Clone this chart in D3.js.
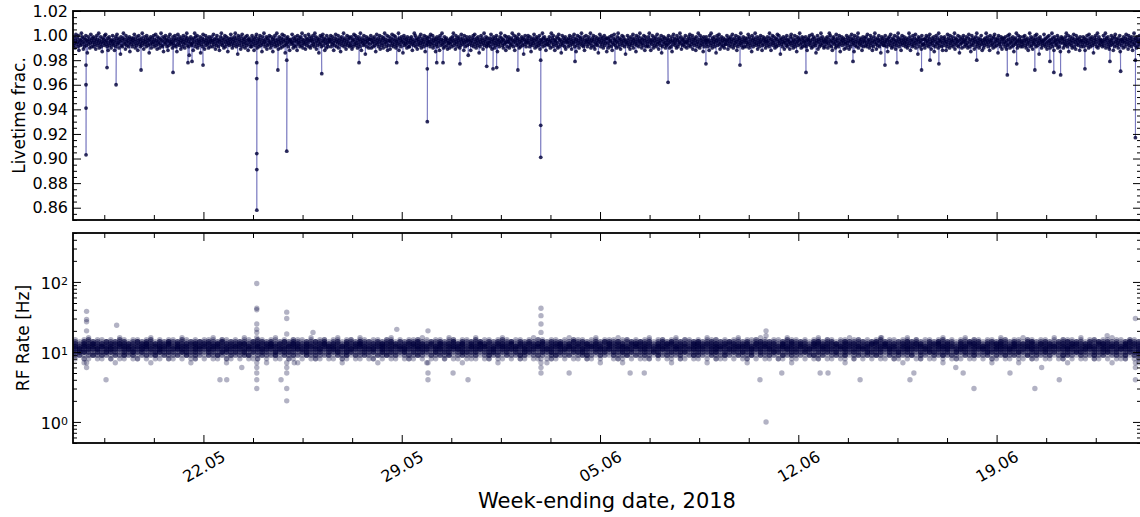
<!DOCTYPE html>
<html><head><meta charset="utf-8">
<script src="https://cdn.jsdelivr.net/npm/d3@7/dist/d3.min.js"></script>
<style>body{margin:0;background:#fff}svg{display:block}</style>
</head><body>
<svg id="chart" width="1140" height="517"></svg>
<script>
// ---------------- data ----------------
const xStart = "17.05 09:30", xEnd = "24.06 02:20";
const xTickLabels = ["22.05", "29.05", "05.06", "12.06", "19.06"];
const livetimeTicks = [0.86, 0.88, 0.90, 0.92, 0.94, 0.96, 0.98, 1.00, 1.02];
const rfTicks = [1, 10, 100];
const rfTickLabels = ["0", "1", "2"];
const yLabelTop = "Livetime frac.", yLabelBottom = "RF Rate [Hz]", xLabel = "Week-ending date, 2018";

// Dead time per run, in per-mille (livetime = 1 - value/1000), evenly spaced runs
const deadPermille = [
3,8,1,6,10,4,-1,7,2,5,9,0,12,6,3,8,4,-2,7,1,5,11,2,9,6,3,0,8,4,14,5,1,7,3,10,6,-1,4,9,2,
6,1,9,4,7,2,11,5,0,8,3,6,-2,10,4,7,1,9,5,13,2,6,3,8,0,5,-1,7,4,9,2,12,6,1,8,3,5,10,4,7,
0,5,8,3,12,6,1,9,4,-1,7,2,6,10,3,5,15,1,8,4,9,2,-2,6,3,7,11,0,5,8,2,4,9,6,1,13,3,7,5,2,
9,4,2,7,-1,5,10,3,8,1,6,12,4,0,7,3,9,5,2,8,-2,6,4,11,1,7,3,5,9,0,6,2,8,4,14,3,7,1,10,5,
2,7,5,0,9,3,6,-1,8,4,11,1,5,7,2,10,6,3,-2,8,4,9,1,13,5,2,7,0,6,3,9,4,12,1,8,5,-1,6,3,7,
5,10,1,6,3,8,0,4,9,2,13,7,-1,5,3,8,1,6,11,4,2,9,5,0,7,3,10,6,1,4,-2,8,2,5,9,16,3,6,1,7,
8,3,6,12,2,5,-2,9,1,7,4,0,10,6,3,8,5,1,14,4,7,2,9,-1,5,3,11,6,0,8,4,2,7,5,10,1,6,3,9,4,
1,6,4,9,-1,7,3,5,11,2,8,0,6,4,9,3,12,5,1,7,-2,4,8,2,6,10,3,0,9,5,1,7,4,13,2,6,8,3,5,-1,
7,2,10,5,3,8,1,6,-2,4,9,2,7,15,0,5,3,8,1,11,6,4,-1,9,2,7,5,3,10,1,6,8,0,4,12,3,7,2,5,9,
4,9,0,7,2,5,12,3,8,1,6,-1,10,4,7,2,9,5,0,3,8,6,13,1,4,7,-2,5,9,3,6,1,11,8,2,4,7,0,5,10,
6,1,8,3,13,5,2,7,0,9,4,6,-2,8,3,11,5,1,7,4,10,2,6,-1,9,3,5,0,8,14,4,7,2,6,1,9,3,5,12,4,
3,7,5,-1,6,10,2,8,4,1,9,5,3,12,0,7,4,6,2,9,1,5,8,-2,3,10,6,4,7,0,11,5,2,8,3,6,-1,9,4,1,
10,4,2,8,5,0,7,3,9,-2,6,1,11,4,8,2,5,14,3,7,0,6,9,1,4,-1,8,5,2,12,3,6,10,0,7,4,9,2,5,3,
5,0,9,3,7,1,6,12,4,8,2,-1,5,9,3,6,0,10,4,7,2,13,5,1,8,3,6,-2,9,4,2,7,11,5,0,8,3,6,1,9,
2,8,6,1,11,4,9,3,-1,7,5,0,8,2,6,10,4,1,7,3,9,-2,5,12,2,6,4,8,0,7,3,15,5,1,9,4,6,2,10,3,
7,3,0,10,4,6,2,9,5,1,8,3,13,6,-1,4,7,2,9,5,0,11,3,6,8,1,4,10,2,7,-2,5,3,9,6,0,12,4,8,1,
4,11,5,2,8,-1,6,3,9,0,7,4,1,10,5,8,3,6,-2,12,2,7,4,9,1,5,3,14,6,0,8,2,5,7,3,10,1,6,4,9,
9,2,6,4,1,7,12,3,5,8,-2,6,0,9,4,2,11,7,3,5,1,8,6,-1,10,4,2,7,5,9,0,3,13,6,1,8,4,2,7,5,
1,5,9,-1,7,3,6,0,10,4,8,2,5,13,3,7,1,9,4,6,2,12,0,5,8,3,-2,7,4,10,6,1,9,3,5,2,8,11,4,6,
6,10,3,7,2,5,9,1,4,-2,8,6,3,11,0,5,7,2,9,4,1,6,10,3,8,-1,5,2,7,4,12,0,6,9,3,5,1,8,4,16,
3,7,1,5,12,4,8,2,6,0,9,3,-1,7,5,10,2,4,8,1,6,14,3,9,5,0,7,2,4,11,6,-2,8,3,5,1,9,7,2,6,
8,4,6,2,9,-1,5,11,3,7,1,4,10,6,2,8,0,5,13,3,7,4,9,1,6,-2,5,2,8,3,10,4,7,0,6,12,1,5,9,3,
5,1,10,6,3,8,2,7,-2,4,9,5,0,12,3,6,1,8,4,2,7,-1,10,5,3,9,6,1,4,8,2,15,3,7,0,5,9,4,6,2,
0,6,4,9,1,7,13,3,5,8,2,6,-1,4,10,7,3,1,9,5,2,8,6,0,11,4,7,3,5,-2,9,2,6,1,8,4,12,3,7,5,
7,3,8,1,5,10,4,-2,6,2,9,0,7,4,12,3,5,8,1,6,10,2,-1,9,4,3,7,14,5,0,8,6,2,4,9,1,11,5,3,6,
4,9,2,6,0,8,3,5,11,1,7,4,6,-1,9,2,5,13,3,8,0,6,4,10,1,7,2,5,-2,8,3,6,9,1,12,4,7,0,5,3,
9,5,1,7,3,6,-2,10,4,8,2,5,0,9,3,11,6,1,7,4,8,2,14,5,3,-1,6,9,1,4,7,2,10,5,0,8,3,6,2,13,
2,6,10,3,8,1,5,4,9,0,12,6,2,7,-1,4,8,3,5,10,1,6,-2,9,4,2,7,11,3,5,0,8,6,1,4,9,3,15,5,7,
6,0,4,9,2,7,11,5,1,8,3,6,-1,10,4,2,7,5,13,0,8,3,6,1,9,4,-2,5,7,2,10,6,3,8,0,4,12,1,6,9,
3,8,5,1,9,-2,6,3,12,4,7,0,5,10,2,8,4,1,6,9,3,-1,7,5,11,2,6,4,8,0,14,3,9,5,1,7,2,6,10,4,
8,2,7,4,0,6,10,3,5,9,1,13,4,7,-1,5,2,8,6,3,10,0,4,9,2,7,5,-2,6,1,11,3,8,4,7,2,5,9,0,6,
5,10,3,6,1,8,4,-1,9,2,7,5,0,11,3,6,8,2,4,12,1,7,5,9,-2,3,6,10,0,8,4,2,7,5,13,1,9,3,6,4,
1,7,4,9,3,5,12,0,6,8,-2,4,10,2,7,5,1,9,3,6,14,4,0,8,2,5,-1,7,11,3,6,1,9,4,8,2,5,10,3,7,
7,4,0,5,11,2,8,3,6,1,9,5,3,-1,7,10,4,2,8,6,0,5,12,3,9,1,7,4,2,6,-2,8,5,3,10,1,6,9,4,2,
4,9,6,2,7,-1,5,10,1,8,3,6,13,0,4,9,2,7,5,-2,3,8,6,1,11,4,7,2,9,5,0,6,3,12,8,1,4,7,2,5,
10,3,5,8,1,6,4,9,-2,2,7,12,3,5,0,8,6,1,4,10,7,2,9,3,-1,5,8,0,6,4,15,2,7,3,9,5,1,6,11,4,
2,6,8,0,9,4,3,7,5,11,1,6,-1,8,2,5,10,4,7,0,9,3,6,13,1,5,8,2,4,-2,7,3,10,6,1,9,4,2,5,8,
6,1,9,4,12,3,7,2,5,0,8,4,6,10,-1,3,9,1,7,5,2,8,14,4,6,0,11,3,5,9,2,7,-2,4,8,1,6,3,10,5,
9,4,2,7,5,1,10,6,3,-2,8,0,5,9,4,12,2,6,1,7,3,10,5,-1,8,4,2,9,6,0,7,13,3,5,1,8,4,6,2,11,
3,7,5,10,0,6,2,8,4,11,1,5,9,3,-1,7,4,2,6,13,0,8,5,3,9,1,6,-2,10,4,7,2,5,8,3,12,6,1,9,4,
5,2,8,1,6,9,-1,4,7,3,10,5,0,8,2,6,12,4,9,1,5,-2,7,3,11,6,2,8,4,0,9,5,3,14,7,1,6,4,2,8,
8,5,0,6,3,9,4,13,2,7,1,5,8,-1,4,10,6,2,9,3,7,0,5,11,4,8,1,6,-2,3,9,5,2,7,12,4,0,6,8,3,
1,6,4,9,7,2,5,10,3,8,-2,6,1,12,4,7,3,9,0,5,8,2,6,-1,10,4,7,3,15,1,5,9,2,6,4,11,0,8,3,7,
7,3,10,2,5,0,8,4,6,1,9,3,-1,7,5,11,2,6,4,8,1,13,3,9,5,0,7,2,6,10,-2,4,8,3,5,1,9,6,12,2,
4,8,1,6,3,12,5,9,-1,7,2,4,10,0,6,8,3,5,1,9,4,7,-2,11,2,6,3,8,5,0,9,4,14,1,7,3,6,10,2,5,
0,5,9,3,7,4,1,8,6,10,2,-1,5,9,3,13,7,0,4,8,2,6,11,3,5,1,9,-2,7,4,6,2,10,8,3,5,0,7,12,4,
6,10,3,8,2,5,-2,7,4,1,9,6,3,12,0,5,8,4,2,7,10,1,6,-1,9,3,5,8,2,4,14,0,7,6,3,9,1,5,11,2,
3,7,2,5,9,1,6,11,4,8,0,3,7,-1,10,5,2,6,9,4,1,8,13,3,6,2,7,-2,5,10,4,0,8,3,6,1,9,5,4,7,
9,1,6,4,0,8,3,10,5,2,7,12,4,6,-2,9,3,1,8,5,11,2,6,4,7,0,3,9,-1,5,8,2,6,15,4,1,7,3,10,5,
5,8,4,-1,7,3,9,2,6,11,1,5,8,0,4,10,6,3,7,-2,9,2,5,12,1,6,4,8,3,7,0,10,5,2,9,4,13,6,1,3,
2,6,10,3,5,8,1,7,-2,4,9,6,0,13,3,7,5,1,8,4,10,2,6,-1,9,3,5,11,0,7,4,2,8,6,3,12,1,5,9,4,
7,4,1,9,6,2,12,5,3,8,0,6,4,10,-1,7,2,9,5,3,1,8,6,14,4,2,7,0,5,9,3,-2,10,6,1,8,4,3,7,5,
4,9,6,0,8,3,5,-2,10,2,7,4,1,9,6,11,3,5,8,0,4,7,2,12,6,1,9,-1,5,3,8,6,2,10,4,7,0,13,5,3,
8,3,5,10,1,6,4,9,2,-1,7,5,3,11,0,8,6,2,4,9,1,5,12,7,3,-2,6,8,2,4,10,1,5,9,3,7,0,6,4,16
];

// Runs with reduced livetime: [time, livetime values of consecutive runs]
const livetimeDrops = [
["17.05 20:30",[0.976,0.960,0.941,0.903]],["18.05 14:20",[0.974]],["18.05 22:00",[0.960]],
["19.05 19:10",[0.972]],["20.05 22:15",[0.970]],["21.05 10:55",[0.978]],["21.05 14:20",[0.979]],
["21.05 23:40",[0.976]],["23.05 21:10",[0.978,0.965,0.904,0.891,0.858]],["24.05 15:05",[0.972]],
["24.05 22:35",[0.980,0.906]],["26.05 04:15",[0.969]],["27.05 11:50",[0.978]],["28.05 19:45",[0.978]],
["29.05 21:40",[0.973,0.930]],["30.05 05:40",[0.978]],["30.05 11:00",[0.978]],["31.05 01:20",[0.977]],
["01.06 00:00",[0.975]],["01.06 05:20",[0.973]],["01.06 08:25",[0.974]],["02.06 02:25",[0.972]],
["02.06 21:45",[0.980,0.927,0.901]],["04.06 02:50",[0.979]],["05.06 12:40",[0.978]],["07.06 09:40",[0.962]],
["08.06 17:45",[0.977]],["09.06 22:35",[0.976]],["12.06 06:30",[0.970]],["13.06 07:55",[0.978]],
["13.06 22:20",[0.979]],["15.06 01:25",[0.976]],["15.06 11:35",[0.978]],["16.06 08:25",[0.972]],
["16.06 15:35",[0.980]],["16.06 23:05",[0.977]],["18.06 07:10",[0.980]],["19.06 09:05",[0.968]],
["19.06 17:00",[0.977]],["20.06 08:25",[0.972]],["20.06 21:10",[0.979]],["21.06 00:30",[0.970]],
["21.06 06:15",[0.968]],["22.06 02:50",[0.973]],["23.06 00:00",[0.979]],["23.06 09:05",[0.971]],
["23.06 21:35",[0.980,0.917]]
];

// RF rate: number of runs in each of 240 equal time bins at each integer rate level [Hz]
const rfLevels = [7, 8, 9, 10, 11, 12, 13, 14, 15, 16];
const runsAt7 = [
0,0,1,0,0,0,0,0,0,1,0,0,0,0,0,0,0,1,0,0,0,0,0,0,0,0,1,0,0,0,
0,0,0,0,1,0,0,0,0,0,0,0,0,1,0,0,0,0,0,0,1,0,0,0,0,0,0,0,0,0,
1,0,0,0,0,0,0,0,1,0,0,0,0,0,0,0,0,0,0,1,0,0,0,0,0,0,0,1,0,0,
0,0,0,0,0,1,0,0,0,0,0,0,0,0,0,0,1,0,0,0,0,0,0,0,0,0,0,0,1,0,
0,0,0,1,0,0,0,0,0,0,0,0,0,0,1,0,0,0,0,0,0,0,1,0,0,0,0,0,0,0,
0,1,0,0,0,0,0,0,0,0,0,1,0,0,0,0,0,0,0,0,0,0,0,1,0,0,0,0,0,0,
0,0,0,0,0,0,1,0,0,0,0,0,0,0,0,1,0,0,0,0,0,0,0,0,0,0,1,0,0,0,
0,0,1,0,0,0,0,0,0,0,0,0,0,1,0,0,0,0,0,0,0,0,0,1,0,0,0,0,0,1];
const runsAt8 = [
1,0,2,1,0,1,1,0,2,0,1,1,0,1,2,0,1,0,1,1,0,2,1,0,1,0,1,2,0,1,
0,1,1,0,2,1,0,1,0,1,1,2,0,1,0,1,1,0,2,1,0,1,0,1,2,1,0,1,1,0,
2,1,0,1,1,0,1,2,0,1,0,1,1,0,1,2,1,0,1,0,1,1,0,2,0,1,1,0,1,1,
1,0,1,2,0,1,1,0,1,0,2,1,0,1,1,0,1,2,1,0,1,0,1,1,0,2,1,0,1,0,
0,1,2,1,0,1,0,1,1,2,0,1,0,1,1,0,2,1,0,1,1,0,1,0,2,1,1,0,1,0,
1,2,0,1,0,1,1,0,2,1,0,1,1,0,1,0,1,2,0,1,1,0,1,1,0,2,0,1,0,1,
0,1,1,0,2,1,0,1,0,1,2,0,1,1,0,1,0,1,2,1,0,1,1,0,1,0,2,1,0,1,
1,0,1,1,0,2,1,0,1,1,0,1,2,0,1,0,1,1,0,2,1,0,1,0,1,1,2,0,1,2];
const runsAt9 = [
2,3,1,2,4,2,3,2,1,3,2,4,2,3,1,2,3,2,4,1,3,2,2,3,1,4,2,3,2,1,
3,2,4,2,1,3,2,2,3,4,1,2,3,2,2,4,1,3,2,3,2,1,4,2,3,2,2,3,1,3,
2,4,1,3,2,3,2,1,3,2,4,2,3,1,2,3,2,4,2,1,3,2,3,2,4,1,2,3,2,2,
3,1,2,4,2,3,1,3,2,2,4,3,1,2,3,2,1,3,4,2,2,3,1,2,3,4,2,1,3,2,
1,3,2,2,4,1,3,2,3,2,1,4,2,3,2,2,3,1,2,4,3,2,1,3,2,2,4,2,1,3,
2,2,4,1,3,2,3,2,1,4,2,3,2,2,1,3,4,2,3,1,2,3,2,4,1,2,3,2,3,2,
4,2,1,3,2,3,2,2,4,1,3,2,1,3,2,4,2,3,2,1,3,2,4,2,2,3,1,3,2,4,
2,3,2,1,4,2,3,2,2,3,1,2,4,3,2,1,3,2,2,4,2,3,1,2,3,2,4,1,3,2];
const runsAt10 = [
3,4,5,3,2,4,3,5,4,3,2,4,3,5,3,4,2,3,4,5,3,4,3,2,5,4,3,4,3,2,
4,3,2,5,4,3,4,3,5,2,4,3,4,3,2,5,3,4,4,3,2,4,5,3,3,4,2,4,3,5,
3,5,4,2,3,4,3,4,2,5,3,4,3,3,5,2,4,3,4,3,2,5,3,4,4,2,3,5,4,3,
4,2,3,4,5,3,3,4,2,4,3,5,4,3,2,4,3,5,3,4,3,2,4,4,5,3,2,4,3,4,
2,4,3,5,3,4,2,3,4,3,5,4,2,3,4,3,4,5,2,3,4,3,3,4,5,2,4,3,4,3,
5,3,4,2,4,3,3,5,4,2,3,4,4,3,5,3,2,4,3,4,3,5,2,4,3,4,3,2,5,4,
3,4,2,4,3,5,3,4,3,2,4,3,5,4,3,3,4,2,5,3,4,3,4,2,3,5,4,3,4,3,
4,3,5,3,2,4,4,3,5,3,4,2,3,4,3,5,4,3,2,4,3,4,5,3,4,2,3,4,3,5];
const runsAt11 = [
4,5,3,4,4,5,3,4,5,4,3,4,5,4,3,5,4,4,3,5,4,3,4,5,4,4,3,5,4,3,
5,4,4,3,5,4,3,4,4,5,3,4,5,4,4,3,5,4,3,4,5,4,4,3,4,5,3,4,5,4,
3,4,5,4,3,4,4,5,3,5,4,4,3,4,5,4,3,5,4,4,3,4,5,3,4,4,5,4,3,4,
4,5,3,4,5,3,4,4,5,4,3,5,4,4,3,4,5,4,3,4,5,4,4,3,5,4,3,4,5,4,
5,3,4,4,5,4,3,4,5,3,4,4,5,4,3,5,4,3,4,5,4,4,3,4,5,4,3,5,4,4,
3,4,5,4,4,3,5,4,3,4,5,4,4,3,4,5,4,3,5,4,4,3,4,5,3,4,4,5,4,3,
4,4,3,5,4,3,4,5,4,4,3,5,4,3,4,4,5,3,4,5,4,3,4,4,5,4,3,5,4,4,
5,4,3,4,4,5,3,4,5,4,3,4,4,5,4,3,4,5,4,4,3,5,4,3,4,5,4,4,3,4];
const runsAt12 = [
4,3,5,4,4,3,5,4,4,3,4,5,4,3,4,4,5,3,4,5,4,4,3,5,4,4,3,4,5,4,
3,5,4,4,3,4,5,4,3,4,4,5,3,4,5,4,3,4,5,4,4,3,5,4,4,3,4,5,4,3,
5,4,3,4,5,4,4,3,4,5,3,4,4,5,4,3,4,5,4,4,3,5,4,3,4,5,4,4,3,5,
4,4,5,3,4,4,5,4,3,5,4,4,3,4,5,4,3,4,4,5,3,5,4,4,3,4,5,4,4,3,
4,3,4,5,4,3,5,4,4,4,3,5,4,4,3,5,4,4,3,4,5,4,3,4,4,5,4,3,4,5,
5,4,4,3,4,5,4,3,4,5,4,4,3,5,4,3,4,4,5,4,3,4,5,4,4,3,5,4,4,3,
3,4,5,4,4,3,4,5,4,3,5,4,4,3,4,5,4,4,3,4,5,3,4,4,5,4,3,4,5,4,
4,5,4,3,5,4,4,3,4,4,5,3,4,5,4,4,3,4,5,4,3,4,4,5,3,4,5,4,3,4];
const runsAt13 = [
3,2,4,3,5,3,4,2,4,3,5,3,4,3,2,4,5,3,4,3,3,5,2,4,3,4,3,5,2,4,
4,3,5,2,4,3,3,4,5,3,2,4,3,4,5,3,4,2,3,5,4,3,4,3,2,4,5,3,4,3,
2,4,3,4,5,3,2,4,3,5,4,3,4,2,3,4,5,3,4,3,4,2,5,3,4,3,4,5,2,4,
3,5,4,3,2,4,4,3,5,2,4,3,4,3,5,4,2,3,4,5,3,4,2,4,3,5,3,4,3,2,
5,3,3,4,2,4,5,3,4,3,2,4,3,5,4,3,3,4,2,5,4,3,4,3,5,2,4,3,4,3,
3,4,2,5,3,4,3,4,2,5,3,4,3,4,3,2,5,4,3,4,3,5,2,4,3,4,3,2,4,5,
4,3,5,3,4,2,4,3,3,5,4,2,3,4,5,3,4,3,2,4,3,4,5,3,2,4,3,5,4,3,
2,5,3,4,3,4,2,5,3,4,3,3,4,2,5,4,3,4,3,2,4,5,3,3,4,2,5,3,4,3];
const runsAt14 = [
2,1,3,2,3,2,1,4,2,3,2,3,1,2,4,2,3,2,1,3,2,4,2,3,2,1,3,2,4,2,
3,2,2,4,1,3,2,3,2,1,4,2,3,2,3,1,2,4,2,3,2,1,3,2,4,2,3,1,2,3,
1,3,2,2,4,2,3,1,3,2,2,4,1,3,2,3,2,4,2,1,3,2,3,2,2,4,1,3,2,3,
2,4,1,3,2,3,2,2,4,1,3,2,3,2,1,4,2,3,2,3,1,2,4,2,3,2,1,3,2,4,
3,2,4,1,2,3,2,4,2,3,1,2,3,2,4,2,3,1,2,3,4,2,2,3,1,3,2,4,2,2,
2,3,1,2,4,2,3,2,1,3,2,4,2,3,2,1,3,4,2,2,3,1,2,4,3,2,2,3,1,3,
4,2,3,2,1,3,2,4,3,2,2,1,3,2,4,2,3,2,1,3,2,4,2,3,1,2,3,2,4,2,
2,3,2,1,3,4,2,2,3,2,1,3,2,4,2,3,2,1,3,2,4,2,3,2,2,1,3,4,2,3];
const runsAt15 = [
1,0,1,2,0,1,1,0,1,0,2,1,0,1,1,0,1,2,0,1,0,1,1,0,2,1,0,1,0,1,
1,1,0,2,1,0,1,0,1,1,0,2,1,0,1,1,0,1,0,2,1,1,0,1,0,1,2,0,1,1,
0,1,2,0,1,1,0,1,1,0,2,1,0,1,0,1,1,2,0,1,0,1,1,0,1,2,0,1,1,0,
2,0,1,1,0,1,2,1,0,1,1,0,1,0,2,1,0,1,1,0,1,0,2,1,1,0,1,1,0,1,
1,1,0,1,2,0,1,0,1,1,0,1,2,0,1,1,0,2,1,0,1,0,1,1,2,0,1,0,1,1,
0,1,1,2,0,1,0,1,1,0,2,1,1,0,1,0,1,1,0,2,1,0,1,1,0,1,2,0,1,0,
1,2,0,1,1,0,1,1,0,2,0,1,1,0,1,2,0,1,0,1,1,0,2,1,0,1,1,0,1,2,
0,1,1,0,2,1,0,1,1,0,1,0,2,1,1,0,1,0,1,2,0,1,1,0,1,1,0,2,1,0];
const runsAt16 = [
0,0,0,1,0,0,0,0,0,0,1,0,0,0,0,0,0,1,0,0,0,0,0,0,1,0,0,0,0,0,
0,1,0,0,0,0,0,0,1,0,0,0,0,0,0,1,0,0,0,0,0,0,0,1,0,0,0,0,0,1,
0,0,0,0,1,0,0,0,0,0,0,1,0,0,0,0,0,0,1,0,0,0,0,0,1,0,0,0,0,0,
1,0,0,0,0,0,1,0,0,0,0,0,0,1,0,0,0,0,0,0,0,1,0,0,0,0,0,1,0,0,
0,0,1,0,0,0,0,0,0,1,0,0,0,0,0,1,0,0,0,0,0,0,1,0,0,0,0,0,0,1,
0,0,0,0,1,0,0,0,0,0,1,0,0,0,0,0,0,1,0,0,0,0,0,0,1,0,0,0,0,0,
0,1,0,0,0,0,0,1,0,0,0,0,0,0,0,1,0,0,0,0,1,0,0,0,0,0,0,0,1,0,
0,0,0,1,0,0,0,0,0,0,1,0,0,0,0,0,1,0,0,0,0,0,0,1,0,0,0,0,0,0];
const runsByLevel = [runsAt7, runsAt8, runsAt9, runsAt10, runsAt11, runsAt12, runsAt13, runsAt14, runsAt15, runsAt16];

// Runs with RF rate away from the main band: [time, rates of runs at that time]
const rfOutliers = [
["17.05 21:00",[38,29,27,20,7,6]],["18.05 13:30",[4]],["18.05 22:30",[24]],["22.05 14:00",[4]],
["22.05 19:45",[4]],["23.05 08:30",[6]],["23.05 21:10",[95,42,40,25,21,19,16,7,6,5,4,3]],
["24.05 17:45",[4]],["24.05 22:35",[37,30,18,7,6,5,3,2]],["25.05 05:00",[7]],["25.05 20:50",[19]],
["28.05 19:50",[21]],["29.05 22:15",[20,7,5,4]],["30.05 19:30",[5]],["31.05 08:10",[4]],
["02.06 22:00",[42,33,25,19,8,7,6,5]],["03.06 21:50",[5]],["06.06 01:30",[5]],["06.06 13:30",[5]],
["10.06 15:30",[4]],["10.06 20:40",[20,17,1]],["11.06 10:00",[5]],["12.06 18:30",[5]],["13.06 01:10",[5]],
["14.06 04:20",[4]],["14.06 22:35",[16]],["15.06 22:35",[4]],["16.06 01:55",[5]],["17.06 13:25",[6]],
["17.06 19:40",[5]],["18.06 04:50",[3]],["19.06 11:20",[5]],["20.06 08:25",[3]],["20.06 14:10",[6]],
["21.06 05:05",[4]],["22.06 21:40",[17]],["23.06 21:35",[30,7,6,4]]
];

// ---------------- drawing ----------------
const parseT = d3.timeParse("%d.%m.%Y %H:%M");
const T = s => parseT(s.replace(" ", ".2018 "));
const t0 = T(xStart), t1 = T(xEnd);

const L = 73, R = 1141;
const top1 = 11, bot1 = 220, top2 = 233, bot2 = 443;
const FONT = "'DejaVu Sans', sans-serif";

const x = d3.scaleTime().domain([t0, t1]).range([L, R]);
const yLT = d3.scaleLinear().domain([0.85, 1.02]).range([bot1, top1]);
const yRF = d3.scaleLog().domain([0.5, 500]).range([bot2, top2]);

const svg = d3.select("#chart").style("font-family", FONT);

// ---- livetime series (regular runs + drop runs, merged in time order)
const n = deadPermille.length;
const ltPoints = deadPermille.map((d, i) => ({t: new Date(+t0 + (t1 - t0) * i / (n - 1)), v: 1 - d / 1000}));
livetimeDrops.forEach(([s, vals]) => {
  const t = T(s);
  vals.forEach((v, j) => ltPoints.push({t: new Date(+t + j * 60000), v}));
});
ltPoints.sort((a, b) => a.t - b.t);

svg.append("clipPath").attr("id", "c1").append("rect")
  .attr("x", L).attr("y", top1).attr("width", R - L).attr("height", bot1 - top1);
svg.append("clipPath").attr("id", "c2").append("rect")
  .attr("x", L).attr("y", top2).attr("width", R - L).attr("height", bot2 - top2);

const g1 = svg.append("g").attr("clip-path", "url(#c1)");
g1.append("path").datum(ltPoints)
  .attr("d", d3.line().x(d => x(d.t)).y(d => yLT(d.v)))
  .attr("fill", "none").attr("stroke", "#4141a5").attr("stroke-opacity", 0.5).attr("stroke-width", 1);
g1.selectAll("circle").data(ltPoints).join("circle")
  .attr("cx", d => x(d.t)).attr("cy", d => yLT(d.v)).attr("r", 1.9)
  .attr("fill", "#00003a").attr("fill-opacity", 0.82);

// ---- RF rate scatter: one circle per run
const nb = runsAt10.length;
const rfPoints = [];
runsByLevel.forEach((counts, li) => counts.forEach((c, b) => {
  const t = new Date(+t0 + (t1 - t0) * (b + 0.5) / nb);
  for (let k = 0; k < c; k++) rfPoints.push({t, v: rfLevels[li]});
}));
rfOutliers.forEach(([s, vals]) => { const t = T(s); vals.forEach(v => rfPoints.push({t, v})); });
const g2 = svg.append("g").attr("clip-path", "url(#c2)");
g2.selectAll("circle").data(rfPoints).join("circle")
  .attr("cx", d => x(d.t)).attr("cy", d => yRF(d.v)).attr("r", 2.7)
  .attr("fill", "#00003a").attr("fill-opacity", 0.3);

// ---- axes
const majorX = xTickLabels.map(s => T(s + " 00:00"));
const minorX = d3.range(-4, 24).map(k => d3.timeHour.offset(majorX[0], 42 * k))
  .filter(d => d >= t0 && d <= t1 && !majorX.some(m => +m === +d));
const ltMinor = d3.range(0, 35).map(k => +(0.85 + k * 0.005).toFixed(3)).filter(v => !livetimeTicks.some(t => Math.abs(t - v) < 1e-9));
const rfMinor = [];
[0.1, 1, 10, 100].forEach(dec => [2,3,4,5,6,7,8,9].forEach(m => { const v = dec * m; if (v >= 0.5 && v <= 500) rfMinor.push(v); }));

function style(g) {
  g.select(".domain").remove();
  g.attr("font-family", FONT).attr("font-size", 16);
  g.selectAll(".tick line").attr("stroke", "#000").attr("stroke-width", 1);
  g.selectAll(".tick text").attr("fill", "#000");
}
function addAxis(axis, tx, ty) { return svg.append("g").attr("transform", `translate(${tx},${ty})`).call(axis).call(style); }

// panel 1
addAxis(d3.axisLeft(yLT).tickValues(livetimeTicks).tickSize(-8).tickPadding(5).tickFormat(d3.format(".2f")), L, 0);
addAxis(d3.axisLeft(yLT).tickValues(ltMinor).tickSize(-4).tickFormat(""), L, 0);
addAxis(d3.axisRight(yLT).tickValues(livetimeTicks).tickSize(-8).tickFormat(""), R, 0);
addAxis(d3.axisRight(yLT).tickValues(ltMinor).tickSize(-4).tickFormat(""), R, 0);
addAxis(d3.axisBottom(x).tickValues(majorX).tickSize(-8).tickFormat(""), 0, bot1);
addAxis(d3.axisBottom(x).tickValues(minorX).tickSize(-5).tickFormat(""), 0, bot1);
addAxis(d3.axisTop(x).tickValues(majorX).tickSize(-8).tickFormat(""), 0, top1);
addAxis(d3.axisTop(x).tickValues(minorX).tickSize(-5).tickFormat(""), 0, top1);

// panel 2
const rfAx = addAxis(d3.axisLeft(yRF).tickValues(rfTicks).tickSize(-8).tickPadding(5).tickFormat(() => ""), L, 0);
rfAx.selectAll(".tick text").each(function(d, i) {
  const t = d3.select(this).attr("dy", "0.44em");
  t.append("tspan").text("10");
  t.append("tspan").attr("dy", "-0.45em").attr("font-size", 11).text(rfTickLabels[i]);
});
addAxis(d3.axisLeft(yRF).tickValues(rfMinor).tickSize(-4).tickFormat(""), L, 0);
addAxis(d3.axisRight(yRF).tickValues(rfTicks).tickSize(-8).tickFormat(""), R, 0);
addAxis(d3.axisRight(yRF).tickValues(rfMinor).tickSize(-4).tickFormat(""), R, 0);
const xb = addAxis(d3.axisBottom(x).tickValues(majorX).tickSize(-8).tickFormat((d, i) => xTickLabels[i]), 0, bot2);
xb.selectAll(".tick text").attr("y", 0).attr("dy", "0.35em").attr("text-anchor", "middle")
  .attr("transform", "translate(0,23.5) rotate(-30)");
addAxis(d3.axisBottom(x).tickValues(minorX).tickSize(-5).tickFormat(""), 0, bot2);
addAxis(d3.axisTop(x).tickValues(majorX).tickSize(-8).tickFormat(""), 0, top2);
addAxis(d3.axisTop(x).tickValues(minorX).tickSize(-5).tickFormat(""), 0, top2);

// spines
[[top1, bot1], [top2, bot2]].forEach(([a, b]) => {
  svg.append("rect").attr("x", L).attr("y", a).attr("width", R - L).attr("height", b - a)
    .attr("fill", "none").attr("stroke", "#000").attr("stroke-width", 1.8);
});

// labels
svg.append("text").attr("transform", `translate(25,${(top1 + bot1) / 2}) rotate(-90)`)
  .attr("text-anchor", "middle").attr("font-size", 17).text(yLabelTop);
svg.append("text").attr("transform", `translate(29,${(top2 + bot2) / 2}) rotate(-90)`)
  .attr("text-anchor", "middle").attr("font-size", 17).text(yLabelBottom);
svg.append("text").attr("x", (L + R) / 2).attr("y", 508)
  .attr("text-anchor", "middle").attr("font-size", 21).text(xLabel);
</script>
</body></html>
